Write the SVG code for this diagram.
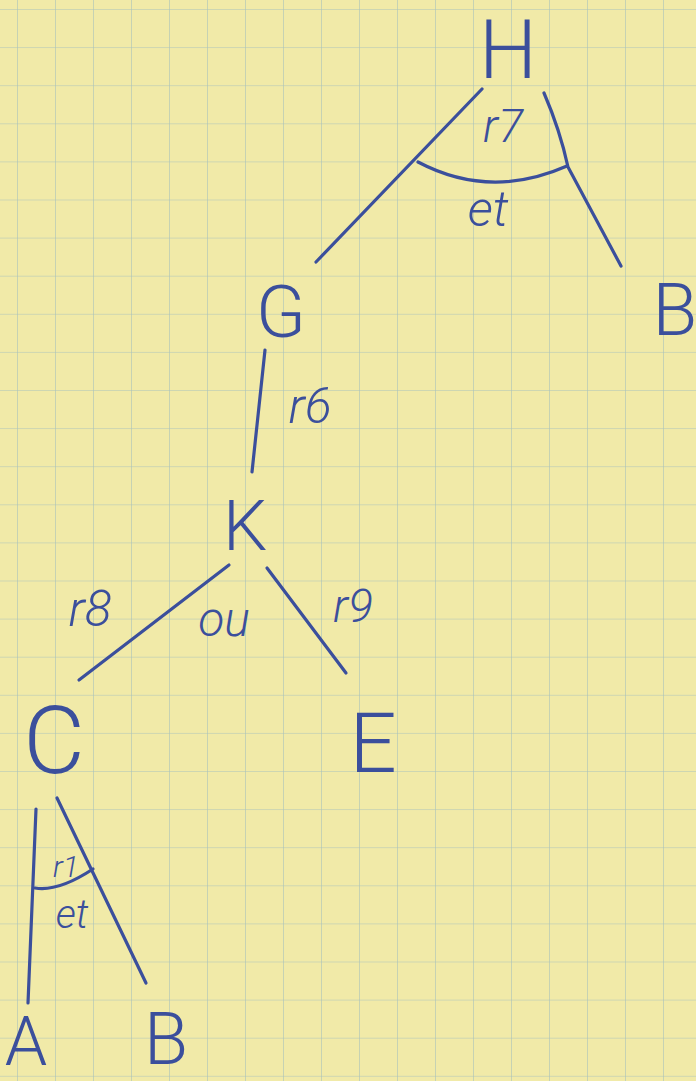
<svg xmlns="http://www.w3.org/2000/svg" width="696" height="1081" viewBox="0 0 696 1081">
  <style>
    .ink { fill: #3b4f9c; font-family: Roboto, "Liberation Sans", sans-serif; font-weight: 300; text-anchor: middle; }
    .lbl { fill: #3b4f9c; font-family: Roboto, "Liberation Sans", sans-serif; font-weight: 300; text-anchor: middle; font-style: italic; }
    .edge { fill: none; stroke: #3b4f9c; stroke-width: 3.2; stroke-linecap: round; stroke-linejoin: round; }
  </style>
  <defs>
    <pattern id="grid" x="17" y="9" width="38" height="38.1" patternUnits="userSpaceOnUse">
      <path d="M0,0 V38.1 M0,0 H38" fill="none" stroke="#a9c2bb" stroke-width="1.2"/>
    </pattern>
  </defs>
  <rect width="696" height="1081" fill="#f1eaa8"/>
  <rect width="696" height="1081" fill="url(#grid)"/>

  <g id="connectors">
    <path class="edge" d="M482,89 L316,262"/>
    <path class="edge" d="M544,93 Q560,130 568,167 L621,266"/>
    <path class="edge" d="M418,162 Q490,200 567,166"/>
    <path class="edge" d="M265,350 L252,472"/>
    <path class="edge" d="M229,565 L79,680"/>
    <path class="edge" d="M267,568 L346,673"/>
    <path class="edge" d="M36,809 L28,1003"/>
    <path class="edge" d="M57,798 L146,983"/>
    <path class="edge" d="M35,888 Q58,892 93,869"/>
  </g>

  <g id="labels">
    <text class="lbl" x="503" y="142" font-size="46">r7</text>
    <text class="lbl" x="488" y="226" font-size="50">et</text>
    <text class="lbl" x="310" y="423" font-size="50">r6</text>
    <text class="lbl" x="90" y="626" font-size="50">r8</text>
    <text class="lbl" x="224" y="636" font-size="48">ou</text>
    <text class="lbl" x="353" y="622" font-size="46">r9</text>
    <text class="lbl" x="66" y="877" font-size="30">r1</text>
    <text class="lbl" x="72" y="928" font-size="40">et</text>
  </g>

  <g id="node-H"><text class="ink" x="508" y="78" font-size="82">H</text></g>
  <g id="node-G"><text class="ink" x="281" y="337" font-size="73">G</text></g>
  <g id="node-B1"><text class="ink" x="675" y="335" font-size="73">B</text></g>
  <g id="node-K"><text class="ink" x="245" y="550" font-size="70">K</text></g>
  <g id="node-C"><text class="ink" x="54" y="773" font-size="95">C</text></g>
  <g id="node-E"><text class="ink" x="373" y="772" font-size="83">E</text></g>
  <g id="node-A"><text class="ink" x="26" y="1065" font-size="68">A</text></g>
  <g id="node-B2"><text class="ink" x="166" y="1064" font-size="72">B</text></g>
</svg>
